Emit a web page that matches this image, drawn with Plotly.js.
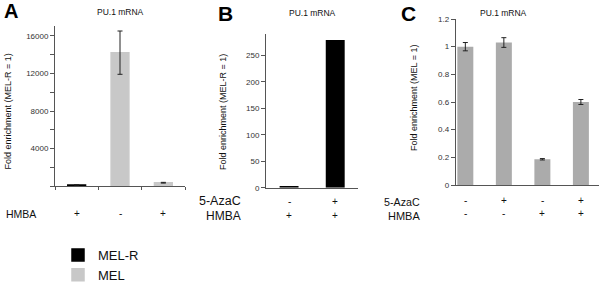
<!DOCTYPE html>
<html><head><meta charset="utf-8">
<script src="https://cdn.plot.ly/plotly-3.0.1.min.js"></script>
<style>html,body{margin:0;padding:0;background:#fff}#chart{width:600px;height:282px}</style>
</head><body><div id="chart"></div>
<script>
// Panel A data
const catsA = ['MEL-R / HMBA+', 'MEL / HMBA-', 'MEL / HMBA+'];
const seriesA = ['MEL-R', 'MEL', 'MEL'];
const valuesA = [150, 14200, 380];
const errorsA = [0, 2300, 40];
const hmbaA = ['+', '-', '+'];
const yTicksA = [0, 2000, 4000, 6000, 8000, 10000, 12000, 14000, 16000];
const yTickTextA = ['', '', '4000', '', '8000', '', '12000', '', '16000'];

// Panel B data
const catsB = ['MEL-R / 5-AzaC- HMBA+', 'MEL-R / 5-AzaC+ HMBA+'];
const valuesB = [3, 279];
const azaB = ['-', '+'];
const hmbaB = ['+', '+'];
const yTicksB = [0, 50, 100, 150, 200, 250];

// Panel C data
const catsC = ['MEL 1', 'MEL 2', 'MEL 3', 'MEL 4'];
const valuesC = [1.0, 1.03, 0.186, 0.60];
const errorsC = [0.03, 0.035, 0.005, 0.018];
const azaC = ['-', '+', '-', '+'];
const hmbaC = ['-', '-', '+', '+'];
const yTicksC = [0, 0.2, 0.4, 0.6, 0.8, 1, 1.2];
const yTickTextC = ['0', '0.2', '0.4', '0.6', '0.8', '1', '1.2'];

const seriesNames = ['MEL-R', 'MEL'];
const seriesColors = {'MEL-R': '#000000', 'MEL': '#c8c8c8'};

const W = 600, H = 282;
const px = v => v / W;
const py = v => 1 - v / H;
const FONT = 'Liberation Sans, Arial, sans-serif';
const AX = '#555555';
const TXT = '#111111';

const traces = [];
seriesNames.forEach(s => {
  const idx = catsA.map((c, i) => i).filter(i => seriesA[i] === s);
  traces.push({
    type: 'bar', name: s, xaxis: 'x', yaxis: 'y',
    x: idx, y: idx.map(i => valuesA[i]), width: 0.41,
    marker: {color: seriesColors[s], line: {color: seriesColors[s], width: 1.5}},
    error_y: {type: 'data', array: idx.map(i => errorsA[i]), visible: true,
      color: '#222', thickness: 1, width: 2.5},
    hoverinfo: 'none'
  });
});
traces.push({
  type: 'bar', name: 'MEL-R', showlegend: false, xaxis: 'x2', yaxis: 'y2',
  x: catsB.map((c, i) => i), y: valuesB, width: 0.41,
  marker: {color: '#000000'}, hoverinfo: 'none'
});
traces.push({
  type: 'bar', name: 'MEL', showlegend: false, xaxis: 'x3', yaxis: 'y3',
  x: catsC.map((c, i) => i), y: valuesC, width: 0.415,
  marker: {color: '#ababab'},
  error_y: {type: 'data', array: errorsC, visible: true, color: '#222', thickness: 1, width: 2.5},
  hoverinfo: 'none'
});

const baseY = {showline: true, linecolor: AX, linewidth: 1, ticks: 'outside', ticklen: 4,
  tickcolor: AX, tickwidth: 1, showgrid: false, zeroline: false,
  tickfont: {family: FONT, size: 8, color: '#333'}, fixedrange: true};
const baseX = {showline: true, linecolor: AX, linewidth: 1, showgrid: false, zeroline: false,
  showticklabels: false, fixedrange: true};

const ann = [];
function A(o) { ann.push(Object.assign({showarrow: false, xanchor: 'center', yanchor: 'middle', font: {family: FONT, size: 10, color: TXT}}, o)); }

// panel letters
A({text: '<b>A</b>', xref: 'paper', yref: 'paper', x: px(2), y: py(11), xanchor: 'left', font: {family: FONT, size: 20, color: '#000'}});
A({text: '<b>B</b>', xref: 'paper', yref: 'paper', x: px(216), y: py(13), xanchor: 'left', font: {family: FONT, size: 21, color: '#000'}});
A({text: '<b>C</b>', xref: 'paper', yref: 'paper', x: px(399), y: py(13), xanchor: 'left', font: {family: FONT, size: 21, color: '#000'}});
// titles
[[120, 12], [312, 13], [503, 13]].forEach(p => A({text: 'PU.1 mRNA', xref: 'paper', yref: 'paper', x: px(p[0]), y: py(p[1]), font: {family: FONT, size: 8.5, color: TXT}}));
// y titles
A({text: 'Fold enrichment (MEL-R = 1)', textangle: -90, xref: 'paper', yref: 'paper', x: px(7.5), y: py(112), font: {family: FONT, size: 9, color: TXT}});
A({text: 'Fold enrichment (MEL-R = 1)', textangle: -90, xref: 'paper', yref: 'paper', x: px(223), y: py(112), font: {family: FONT, size: 9, color: TXT}});
A({text: 'Fold enrichment (MEL = 1)', textangle: -90, xref: 'paper', yref: 'paper', x: px(414), y: py(98), font: {family: FONT, size: 9, color: TXT}});
// row labels
A({text: 'HMBA', xref: 'paper', yref: 'paper', x: px(4), y: py(213.7), xanchor: 'left', font: {family: FONT, size: 10.5, color: TXT}});
hmbaA.forEach((t, i) => A({text: t, xref: 'x', yref: 'paper', x: i, y: py(213), font: {family: FONT, size: 10, color: TXT}}));
A({text: '5-AzaC', xref: 'paper', yref: 'paper', x: px(243), y: py(201), xanchor: 'right', font: {family: FONT, size: 12.5, color: TXT}});
A({text: 'HMBA', xref: 'paper', yref: 'paper', x: px(243), y: py(215.5), xanchor: 'right', font: {family: FONT, size: 12, color: TXT}});
azaB.forEach((t, i) => A({text: t, xref: 'x2', yref: 'paper', x: i, y: py(201.7), font: {family: FONT, size: 10, color: TXT}}));
hmbaB.forEach((t, i) => A({text: t, xref: 'x2', yref: 'paper', x: i, y: py(215), font: {family: FONT, size: 10, color: TXT}}));
A({text: '5-AzaC', xref: 'paper', yref: 'paper', x: px(422), y: py(201.7), xanchor: 'right', font: {family: FONT, size: 10.7, color: TXT}});
A({text: 'HMBA', xref: 'paper', yref: 'paper', x: px(422), y: py(216), xanchor: 'right', font: {family: FONT, size: 11, color: TXT}});
azaC.forEach((t, i) => A({text: t, xref: 'x3', yref: 'paper', x: i, y: py(200), font: {family: FONT, size: 10, color: TXT}}));
hmbaC.forEach((t, i) => A({text: t, xref: 'x3', yref: 'paper', x: i, y: py(213.3), font: {family: FONT, size: 10, color: TXT}}));

const layout = {
  width: W, height: H, margin: {l: 0, r: 0, t: 0, b: 0, pad: 0, autoexpand: false},
  paper_bgcolor: '#fff', plot_bgcolor: '#fff', barmode: 'overlay',
  showlegend: true,
  legend: {x: px(58), y: py(240), xanchor: 'left', yanchor: 'top', orientation: 'v',
    font: {family: FONT, size: 13, color: TXT}, bgcolor: 'rgba(0,0,0,0)', tracegroupgap: 0},
  xaxis: Object.assign({}, baseX, {domain: [px(55), px(185)], range: [-0.5, 2.5], anchor: 'y',
    tickvals: [-0.5, 0.5, 1.5, 2.5], ticktext: ['', '', '', ''], ticks: 'outside', ticklen: 3, tickcolor: AX, showticklabels: true}),
  yaxis: Object.assign({}, baseY, {domain: [py(186.3), py(26.3)], range: [0, 17000], anchor: 'x',
    tickvals: yTicksA, ticktext: yTickTextA}),
  xaxis2: Object.assign({}, baseX, {domain: [px(266), px(358.3)], range: [-0.5, 1.5], anchor: 'y2', ticks: ''}),
  yaxis2: Object.assign({}, baseY, {domain: [py(187.7), py(33.6)], range: [0, 291], anchor: 'x2',
    tickvals: yTicksB, ticktext: yTicksB.map(String)}),
  xaxis3: Object.assign({}, baseX, {domain: [px(455.7), px(599)], range: [-0.25, 3.47], anchor: 'y3', ticks: ''}),
  yaxis3: Object.assign({}, baseY, {domain: [py(185), py(19)], range: [0, 1.2], anchor: 'x3',
    tickvals: yTicksC, ticktext: yTickTextC}),
  annotations: ann
};
Plotly.newPlot('chart', traces, layout, {staticPlot: true});
</script></body></html>
